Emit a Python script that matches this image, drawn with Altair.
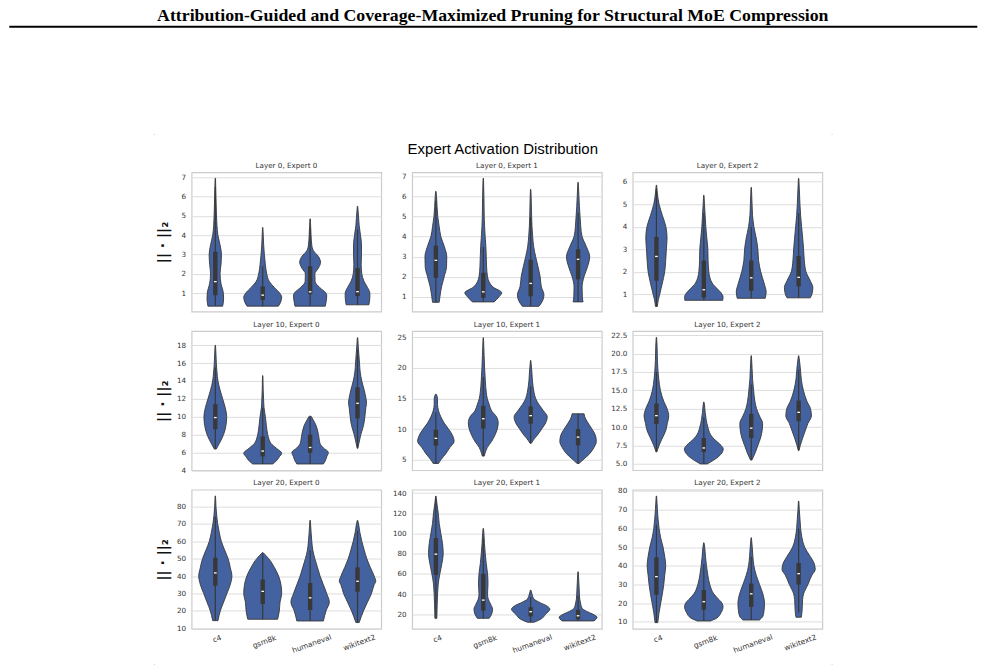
import json
import altair as alt
import pandas as pd

# ---------------- data ----------------
CATEGORIES = ["c4", "gsm8k", "humaneval", "wikitext2"]

PANEL_TITLES = [
    "Layer 0, Expert 0", "Layer 0, Expert 1", "Layer 0, Expert 2",
    "Layer 10, Expert 0", "Layer 10, Expert 1", "Layer 10, Expert 2",
    "Layer 20, Expert 0", "Layer 20, Expert 1", "Layer 20, Expert 2",
]

# violin outlines: [value, half-width in category units]
L0E0_PROFILE = {
    "c4": [[0.33, 0.155], [0.7, 0.175], [1.0, 0.17], [1.5, 0.12], [2.0, 0.10], [2.5, 0.12], [3.0, 0.13],
           [3.5, 0.10], [4.0, 0.055], [4.5, 0.035], [5.0, 0.025], [6.0, 0.014], [6.95, 0.004]],
    "gsm8k": [[0.33, 0.33], [0.55, 0.38], [0.8, 0.40], [1.0, 0.36], [1.3, 0.245], [1.6, 0.14], [2.0, 0.085],
              [2.5, 0.055], [3.0, 0.035], [3.5, 0.02], [4.4, 0.004]],
    "humaneval": [[0.33, 0.32], [0.6, 0.34], [0.9, 0.35], [1.0, 0.335], [1.3, 0.2], [1.6, 0.105], [2.0, 0.10],
                  [2.3, 0.175], [2.6, 0.22], [2.9, 0.175], [3.2, 0.07], [3.5, 0.035], [4.0, 0.02], [4.85, 0.004]],
    "wikitext2": [[0.4, 0.24], [0.8, 0.26], [1.0, 0.26], [1.3, 0.21], [1.6, 0.14], [2.0, 0.09], [2.5, 0.077],
                  [3.0, 0.084], [3.5, 0.084], [4.0, 0.063], [4.5, 0.035], [5.0, 0.02], [5.5, 0.004]],
}
L0E1_PROFILE = {
    "c4": [[0.73, 0.07], [1.0, 0.085], [1.5, 0.12], [2.0, 0.175], [2.5, 0.225], [3.0, 0.23], [3.5, 0.18],
           [4.0, 0.105], [4.5, 0.07], [5.0, 0.04], [5.5, 0.025], [6.0, 0.014], [6.25, 0.004]],
    "gsm8k": [[0.75, 0.23], [1.0, 0.33], [1.2, 0.39], [1.5, 0.2], [2.0, 0.09], [2.5, 0.07], [3.0, 0.063],
              [3.5, 0.055], [4.0, 0.04], [4.5, 0.028], [5.0, 0.02], [6.0, 0.014], [6.9, 0.004]],
    "humaneval": [[0.53, 0.175], [0.8, 0.25], [1.1, 0.28], [1.5, 0.225], [2.0, 0.2], [2.5, 0.155], [3.0, 0.105],
                  [3.5, 0.063], [4.0, 0.042], [4.5, 0.028], [5.0, 0.02], [6.0, 0.01], [6.35, 0.004]],
    "wikitext2": [[0.75, 0.105], [1.0, 0.09], [1.5, 0.085], [2.0, 0.125], [2.5, 0.2], [3.0, 0.245], [3.5, 0.175],
                  [4.0, 0.085], [4.5, 0.056], [5.0, 0.042], [5.5, 0.028], [6.0, 0.018], [6.7, 0.004]],
}
L0E2_PROFILE = {
    "c4": [[0.46, 0.02], [0.75, 0.04], [1.0, 0.07], [1.5, 0.126], [2.0, 0.175], [2.5, 0.196], [3.0, 0.21],
           [3.5, 0.224], [4.0, 0.2], [4.5, 0.126], [5.0, 0.056], [5.5, 0.02], [5.85, 0.004]],
    "gsm8k": [[0.73, 0.40], [0.9, 0.405], [1.0, 0.385], [1.25, 0.28], [1.5, 0.175], [2.0, 0.105], [2.5, 0.09],
              [3.0, 0.085], [3.5, 0.063], [4.0, 0.042], [4.5, 0.028], [5.0, 0.014], [5.4, 0.004]],
    "humaneval": [[0.82, 0.295], [1.1, 0.315], [1.5, 0.27], [2.0, 0.2], [2.5, 0.155], [3.0, 0.14], [3.5, 0.105],
                  [4.0, 0.056], [4.5, 0.028], [5.0, 0.018], [5.75, 0.004]],
    "wikitext2": [[0.84, 0.245], [1.0, 0.28], [1.3, 0.30], [1.6, 0.245], [2.0, 0.155], [2.5, 0.12], [3.0, 0.105],
                  [3.5, 0.085], [4.0, 0.063], [4.5, 0.042], [5.0, 0.028], [5.5, 0.018], [6.15, 0.004]],
}
L10E0_PROFILE = {
    "c4": [[6.37, 0.02], [7, 0.085], [8, 0.175], [9, 0.224], [10, 0.24], [11, 0.21], [12, 0.155], [13, 0.1],
           [14, 0.056], [15, 0.035], [16, 0.021], [17, 0.014], [18, 0.004]],
    "gsm8k": [[4.7, 0.21], [5.0, 0.28], [5.5, 0.35], [5.9, 0.40], [6.5, 0.28], [7, 0.175], [8, 0.105], [9, 0.077],
              [10, 0.056], [11, 0.028], [12, 0.018], [13, 0.01], [14.6, 0.004]],
    "humaneval": [[4.7, 0.28], [5.0, 0.315], [5.5, 0.35], [6.0, 0.385], [6.5, 0.28], [7, 0.21], [8, 0.175],
                  [9, 0.126], [9.6, 0.07], [10.05, 0.02]],
    "wikitext2": [[6.45, 0.007], [7, 0.028], [8, 0.07], [9, 0.126], [10, 0.155], [11, 0.175], [11.5, 0.19],
                  [12, 0.18], [13, 0.14], [14, 0.09], [15, 0.056], [16, 0.042], [17, 0.028], [18, 0.014],
                  [18.85, 0.004]],
}
L10E1_PROFILE = {
    "c4": [[4.4, 0.056], [5, 0.105], [6, 0.21], [7, 0.295], [8, 0.385], [9, 0.35], [10, 0.27], [11, 0.175],
           [12, 0.105], [13, 0.056], [14, 0.035], [15, 0.035], [15.7, 0.007]],
    "gsm8k": [[5.6, 0.02], [6, 0.035], [7, 0.084], [8, 0.175], [9, 0.245], [10, 0.295], [11, 0.315], [12, 0.28],
              [13, 0.175], [14, 0.126], [15, 0.084], [16, 0.063], [18, 0.042], [20, 0.028], [22, 0.018],
              [24.9, 0.004]],
    "humaneval": [[7.7, 0.014], [8.5, 0.084], [9, 0.14], [10, 0.23], [11, 0.315], [12, 0.35], [13, 0.27],
                  [14, 0.175], [15, 0.105], [16, 0.07], [17, 0.05], [18, 0.035], [19, 0.028], [20, 0.018],
                  [21.2, 0.004]],
    "wikitext2": [[4.4, 0.02], [5, 0.105], [6, 0.245], [7, 0.335], [8, 0.385], [9, 0.365], [10, 0.295],
                  [11, 0.21], [12, 0.14], [12.5, 0.126]],
}
L10E2_PROFILE = {
    "c4": [[6.6, 0.007], [7.5, 0.056], [8.5, 0.126], [9.5, 0.196], [10.5, 0.23], [11.5, 0.26], [12.5, 0.225],
           [13.5, 0.155], [15, 0.084], [16.5, 0.05], [17.5, 0.035], [19, 0.021], [21, 0.014], [22.2, 0.004]],
    "gsm8k": [[4.98, 0.07], [5.5, 0.21], [6, 0.315], [6.5, 0.385], [7, 0.41], [7.5, 0.365], [8, 0.28],
              [8.5, 0.196], [9, 0.14], [10, 0.084], [11, 0.05], [12, 0.028], [13, 0.014], [13.4, 0.004]],
    "humaneval": [[5.5, 0.014], [6.5, 0.084], [7.5, 0.14], [8.5, 0.196], [9.5, 0.23], [10.5, 0.24], [11.5, 0.175],
                  [12.5, 0.112], [13.5, 0.077], [15, 0.05], [16.5, 0.028], [18, 0.018], [19.7, 0.004]],
    "wikitext2": [[6.8, 0.007], [7.5, 0.035], [8.5, 0.084], [9.5, 0.14], [10.5, 0.196], [11.5, 0.27], [12.5, 0.25],
                  [13.5, 0.175], [15, 0.1], [16.5, 0.056], [17.5, 0.042], [18.5, 0.028], [19.7, 0.004]],
}
L20E0_PROFILE = {
    "c4": [[14.4, 0.056], [20, 0.105], [25, 0.175], [30, 0.245], [35, 0.315], [40, 0.35], [45, 0.315], [50, 0.27],
           [55, 0.196], [60, 0.126], [65, 0.084], [70, 0.05], [75, 0.028], [80, 0.014], [86, 0.004]],
    "gsm8k": [[15.2, 0.315], [20, 0.35], [25, 0.365], [30, 0.40], [35, 0.385], [40, 0.335], [45, 0.245],
              [50, 0.126], [52, 0.06], [53.5, 0.006]],
    "humaneval": [[14.2, 0.28], [20, 0.335], [25, 0.405], [30, 0.35], [35, 0.28], [40, 0.21], [45, 0.155],
                  [50, 0.1], [55, 0.056], [60, 0.035], [65, 0.021], [72, 0.004]],
    "wikitext2": [[13.3, 0.035], [20, 0.126], [25, 0.21], [30, 0.295], [35, 0.35], [37, 0.385], [40, 0.35],
                  [45, 0.27], [50, 0.196], [55, 0.14], [60, 0.09], [65, 0.05], [70, 0.021], [72, 0.004]],
}
L20E1_PROFILE = {
    "c4": [[16, 0.02], [30, 0.028], [50, 0.05], [60, 0.084], [70, 0.126], [80, 0.155], [90, 0.14], [100, 0.105],
           [110, 0.07], [120, 0.05], [130, 0.021], [137, 0.004]],
    "gsm8k": [[16, 0.126], [20, 0.175], [25, 0.196], [30, 0.155], [35, 0.105], [40, 0.09], [50, 0.1], [60, 0.09],
              [70, 0.063], [80, 0.042], [90, 0.025], [100, 0.014], [105, 0.004]],
    "humaneval": [[12.1, 0.07], [15, 0.21], [20, 0.315], [25, 0.405], [28, 0.35], [32, 0.175], [35, 0.07],
                  [40, 0.028], [44, 0.004]],
    "wikitext2": [[13.4, 0.335], [17, 0.40], [20, 0.315], [23, 0.175], [26, 0.084], [30, 0.056], [35, 0.035],
                  [40, 0.028], [50, 0.018], [62, 0.004]],
}
L20E2_PROFILE = {
    "c4": [[9.6, 0.028], [15, 0.056], [20, 0.09], [25, 0.126], [30, 0.155], [35, 0.175], [40, 0.196], [45, 0.175],
           [50, 0.14], [55, 0.09], [60, 0.056], [65, 0.035], [70, 0.021], [77.3, 0.004]],
    "gsm8k": [[10.5, 0.14], [12, 0.27], [15, 0.365], [18, 0.405], [20, 0.385], [22, 0.315], [25, 0.21], [30, 0.126],
              [35, 0.084], [40, 0.056], [45, 0.035], [50, 0.018], [52.3, 0.004]],
    "humaneval": [[11, 0.175], [13, 0.245], [16, 0.27], [20, 0.28], [25, 0.245], [30, 0.175], [35, 0.105],
                  [40, 0.056], [45, 0.035], [50, 0.021], [55, 0.004]],
    "wikitext2": [[12.5, 0.056], [15, 0.07], [18, 0.077], [22, 0.084], [25, 0.105], [30, 0.196], [35, 0.28],
                  [38, 0.35], [42, 0.315], [45, 0.245], [50, 0.126], [55, 0.07], [60, 0.042], [65, 0.028],
                  [70, 0.014], [74.6, 0.004]],
}

# inner box: [whisker low, q1, median, q3, whisker high]
L0E0_BOX = {"c4": [0.35, 0.9, 1.6, 3.15, 6.5], "gsm8k": [0.33, 0.65, 0.9, 1.35, 2.4],
            "humaneval": [0.35, 0.95, 1.07, 2.4, 4.4], "wikitext2": [0.4, 0.85, 1.08, 2.3, 4.3]}
L0E1_BOX = {"c4": [0.73, 1.95, 2.82, 3.55, 5.8], "gsm8k": [0.75, 0.95, 1.25, 2.2, 3.5],
            "humaneval": [0.55, 1.03, 1.67, 2.85, 5.0], "wikitext2": [0.75, 1.87, 2.87, 3.37, 5.2]}
L0E2_BOX = {"c4": [0.46, 1.6, 2.68, 3.55, 5.7], "gsm8k": [0.73, 0.85, 1.2, 2.5, 4.6],
            "humaneval": [0.82, 1.15, 1.73, 2.5, 4.0], "wikitext2": [0.84, 1.35, 1.75, 2.7, 4.6]}
L10E0_BOX = {"c4": [6.4, 8.6, 9.9, 11.4, 15.5], "gsm8k": [4.7, 5.55, 6.15, 7.8, 11.0],
             "humaneval": [4.7, 5.95, 6.55, 8.0, 10.0], "wikitext2": [6.5, 9.8, 11.5, 13.3, 17.5]}
L10E1_BOX = {"c4": [4.4, 7.3, 8.5, 9.9, 12.7], "gsm8k": [5.6, 10.1, 11.7, 13.8, 18.5],
             "humaneval": [7.7, 10.9, 12.2, 13.7, 17.0], "wikitext2": [4.4, 7.35, 8.7, 10.0, 12.5]}
L10E2_BOX = {"c4": [6.6, 10.4, 11.55, 13.2, 17.5], "gsm8k": [5.0, 6.6, 7.15, 8.5, 11.3],
             "humaneval": [5.5, 8.5, 9.85, 11.8, 15.8], "wikitext2": [6.8, 10.8, 12.0, 13.6, 17.8]}
L20E0_BOX = {"c4": [14.4, 34.5, 41.8, 50.5, 74], "gsm8k": [15.2, 24, 31.2, 38, 53],
             "humaneval": [14.2, 20.5, 27.5, 36, 55], "wikitext2": [13.3, 31, 37, 45, 66]}
L20E1_BOX = {"c4": [16, 59, 79.5, 95.5, 134], "gsm8k": [16, 23.5, 34, 60, 95],
             "humaneval": [12.1, 18, 22.5, 27, 37], "wikitext2": [13.4, 15, 18.5, 24.5, 38]}
L20E2_BOX = {"c4": [9.6, 24.5, 34.2, 44.5, 62], "gsm8k": [10.5, 16.5, 20.8, 27, 41],
             "humaneval": [11, 18, 25, 30.5, 45], "wikitext2": [15, 30, 35.8, 41.5, 60]}

PROFILES = [L0E0_PROFILE, L0E1_PROFILE, L0E2_PROFILE, L10E0_PROFILE, L10E1_PROFILE, L10E2_PROFILE,
            L20E0_PROFILE, L20E1_PROFILE, L20E2_PROFILE]
BOXES = [L0E0_BOX, L0E1_BOX, L0E2_BOX, L10E0_BOX, L10E1_BOX, L10E2_BOX, L20E0_BOX, L20E1_BOX, L20E2_BOX]

Y_DOMAINS = [[0.05, 7.26], [0.27, 7.2], [0.23, 6.42],
             [4.0, 19.6], [3.3, 26.0], [4.12, 23.07],
             [9.65, 89.6], [5.5, 143.3], [6.25, 80.7]]
Y_TICKS = [[1, 2, 3, 4, 5, 6, 7], [1, 2, 3, 4, 5, 6, 7], [1, 2, 3, 4, 5, 6],
           [4, 6, 8, 10, 12, 14, 16, 18], [5, 10, 15, 20, 25], [5.0, 7.5, 10.0, 12.5, 15.0, 17.5, 20.0, 22.5],
           [10, 20, 30, 40, 50, 60, 70, 80], [20, 40, 60, 80, 100, 120, 140], [10, 20, 30, 40, 50, 60, 70, 80]]
Y_FORMATS = ["d", "d", "d", "d", "d", ".1f", "d", "d", "d"]

HEADER = "Attribution-Guided and Coverage-Maximized Pruning for Structural MoE Compression"
SUPTITLE = "Expert Activation Distribution"
Y_LABEL = "|| · ||₂"

# ---------------- styling / layout ----------------
FILL = "#44629f"
EDGE = "#383838"
TICK_COLOR = "#333333"
PANEL_W, PANEL_H = 190, 139.5
COL_GAP, ROW_GAP = 31, 19
ORIGIN_X, ORIGIN_Y = 190.7, 171.0
P1_X = ORIGIN_X + PANEL_W + COL_GAP  # left edge of the top-middle panel

label_expr = json.dumps(CATEGORIES) + "[datum.value]"


def make_panel(i):
    r, c = divmod(i, 3)
    prof, box = PROFILES[i], BOXES[i]
    rows = []
    for k, cat in enumerate(CATEGORIES):
        for v, w in prof[cat]:
            rows.append({"cat": cat, "idx": k, "v": v, "hw": w})
    df = pd.DataFrame(rows)
    bdf = pd.DataFrame([{"cat": cat, "idx": k, "wlo": box[cat][0], "q1": box[cat][1], "med": box[cat][2],
                         "q3": box[cat][3], "whi": box[cat][4]} for k, cat in enumerate(CATEGORIES)])

    xs = alt.Scale(domain=[-0.5, 3.5], nice=False, zero=False)
    ys = alt.Scale(domain=Y_DOMAINS[i], nice=False, zero=False)
    if r == 2:
        xaxis = alt.Axis(values=[0, 1, 2, 3], labelExpr=label_expr, labelAngle=-20, labelAlign="center",
                         labelBaseline="top", ticks=False, domain=False, grid=False, labelFontSize=7.4,
                         labelFont="DejaVu Sans", labelColor=TICK_COLOR,
                         labelPadding={"condition": [{"test": "datum.value == 1", "value": 9},
                                                     {"test": "datum.value == 2", "value": 11},
                                                     {"test": "datum.value == 3", "value": 10}],
                                       "value": 6},
                         title=None)
    else:
        xaxis = None
    yargs = dict(values=Y_TICKS[i], format=Y_FORMATS[i], grid=True, gridColor="#dddddd", gridWidth=1,
                 ticks=False, domain=False, labelFontSize=7.2, labelFont="DejaVu Sans", labelColor=TICK_COLOR,
                 labelPadding=6)
    if c == 0:
        yaxis = alt.Axis(title=Y_LABEL, titleFont="DejaVu Sans", titleFontSize=14, titleFontWeight="bold",
                         titleColor="#111111", titleAngle=270, titleX=-24, titleY=PANEL_H / 2,
                         titleAlign="center", titleBaseline="alphabetic", **yargs)
    else:
        yaxis = alt.Axis(title=None, **yargs)

    def X(f):
        return alt.X(f, type="quantitative", scale=xs, axis=xaxis)

    def Y(f):
        return alt.Y(f, type="quantitative", scale=ys, axis=yaxis)

    area = alt.Chart(df).transform_calculate(
        lo="datum.idx - datum.hw", hi="datum.idx + datum.hw"
    ).mark_area(orient="horizontal", interpolate="monotone", fill=FILL, fillOpacity=1,
                stroke=EDGE, strokeWidth=0.9).encode(
        x=X("lo"), x2=alt.X2("hi:Q"), y=Y("v"), detail="cat:N")
    whisk = alt.Chart(bdf).mark_rule(color=EDGE, strokeWidth=1.2).encode(
        x=X("idx"), y=Y("wlo"), y2=alt.Y2("whi:Q"))
    iqr = alt.Chart(bdf).mark_rule(color=EDGE, strokeWidth=4.4).encode(
        x=X("idx"), y=Y("q1"), y2=alt.Y2("q3:Q"))
    med = alt.Chart(bdf).transform_calculate(
        mlo="datum.idx - 0.028", mhi="datum.idx + 0.028"
    ).mark_rule(color="white", strokeWidth=1.3).encode(x=X("mlo"), x2=alt.X2("mhi:Q"), y=Y("med"))

    one = alt.Data(values=[{"k": 0}])
    ptitle = alt.Chart(one).mark_text(
        text=PANEL_TITLES[i], font="DejaVu Sans", fontSize=7.2, color=TICK_COLOR,
        align="center", baseline="alphabetic").encode(x=alt.value(PANEL_W / 2), y=alt.value(-4.3))

    layers = [area, whisk, iqr, med, ptitle]

    if i == 1:
        anchor = alt.Chart(one).mark_rule(strokeOpacity=0, strokeWidth=0.01, color="white").encode(
            x=alt.value(-P1_X), x2=alt.value(985 - P1_X), y=alt.value(-ORIGIN_Y))
        header_rule = alt.Chart(one).mark_rule(color="black", strokeWidth=2).encode(
            x=alt.value(8 - P1_X), x2=alt.value(978 - P1_X), y=alt.value(25 - ORIGIN_Y))
        header_text = alt.Chart(one).mark_text(
            text=HEADER, font="Liberation Serif", fontWeight="bold", fontSize=17.8, color="black",
            align="center", baseline="alphabetic").encode(
            x=alt.value(492.5 - P1_X), y=alt.value(19.5 - ORIGIN_Y))
        sup = alt.Chart(one).mark_text(
            text=SUPTITLE, font="Liberation Sans", fontSize=15, color="black",
            align="center", baseline="alphabetic").encode(
            x=alt.value(502.5 - P1_X), y=alt.value(153 - ORIGIN_Y))
        layers += [anchor, header_rule, header_text, sup]
        # faint figure-corner specks of the original export
        for cx, cy in [(153, 133), (832, 133), (153, 664), (832, 664)]:
            layers.append(alt.Chart(one).mark_rule(color="#c8c8c8", strokeWidth=1).encode(
                x=alt.value(cx - P1_X), x2=alt.value(cx + 1 - P1_X), y=alt.value(cy - ORIGIN_Y)))

    return alt.layer(*layers).properties(width=PANEL_W, height=PANEL_H)


panels = [make_panel(i) for i in range(9)]

chart = alt.concat(
    *panels, columns=3, spacing={"row": ROW_GAP, "column": COL_GAP}, bounds="flush"
).properties(
    padding={"left": 0, "top": 0, "right": 0, "bottom": 4}
).configure(background="white").configure_view(stroke="#cccccc", strokeWidth=1.2)

chart.save("out.html", embed_options={"renderer": "svg", "actions": False})
